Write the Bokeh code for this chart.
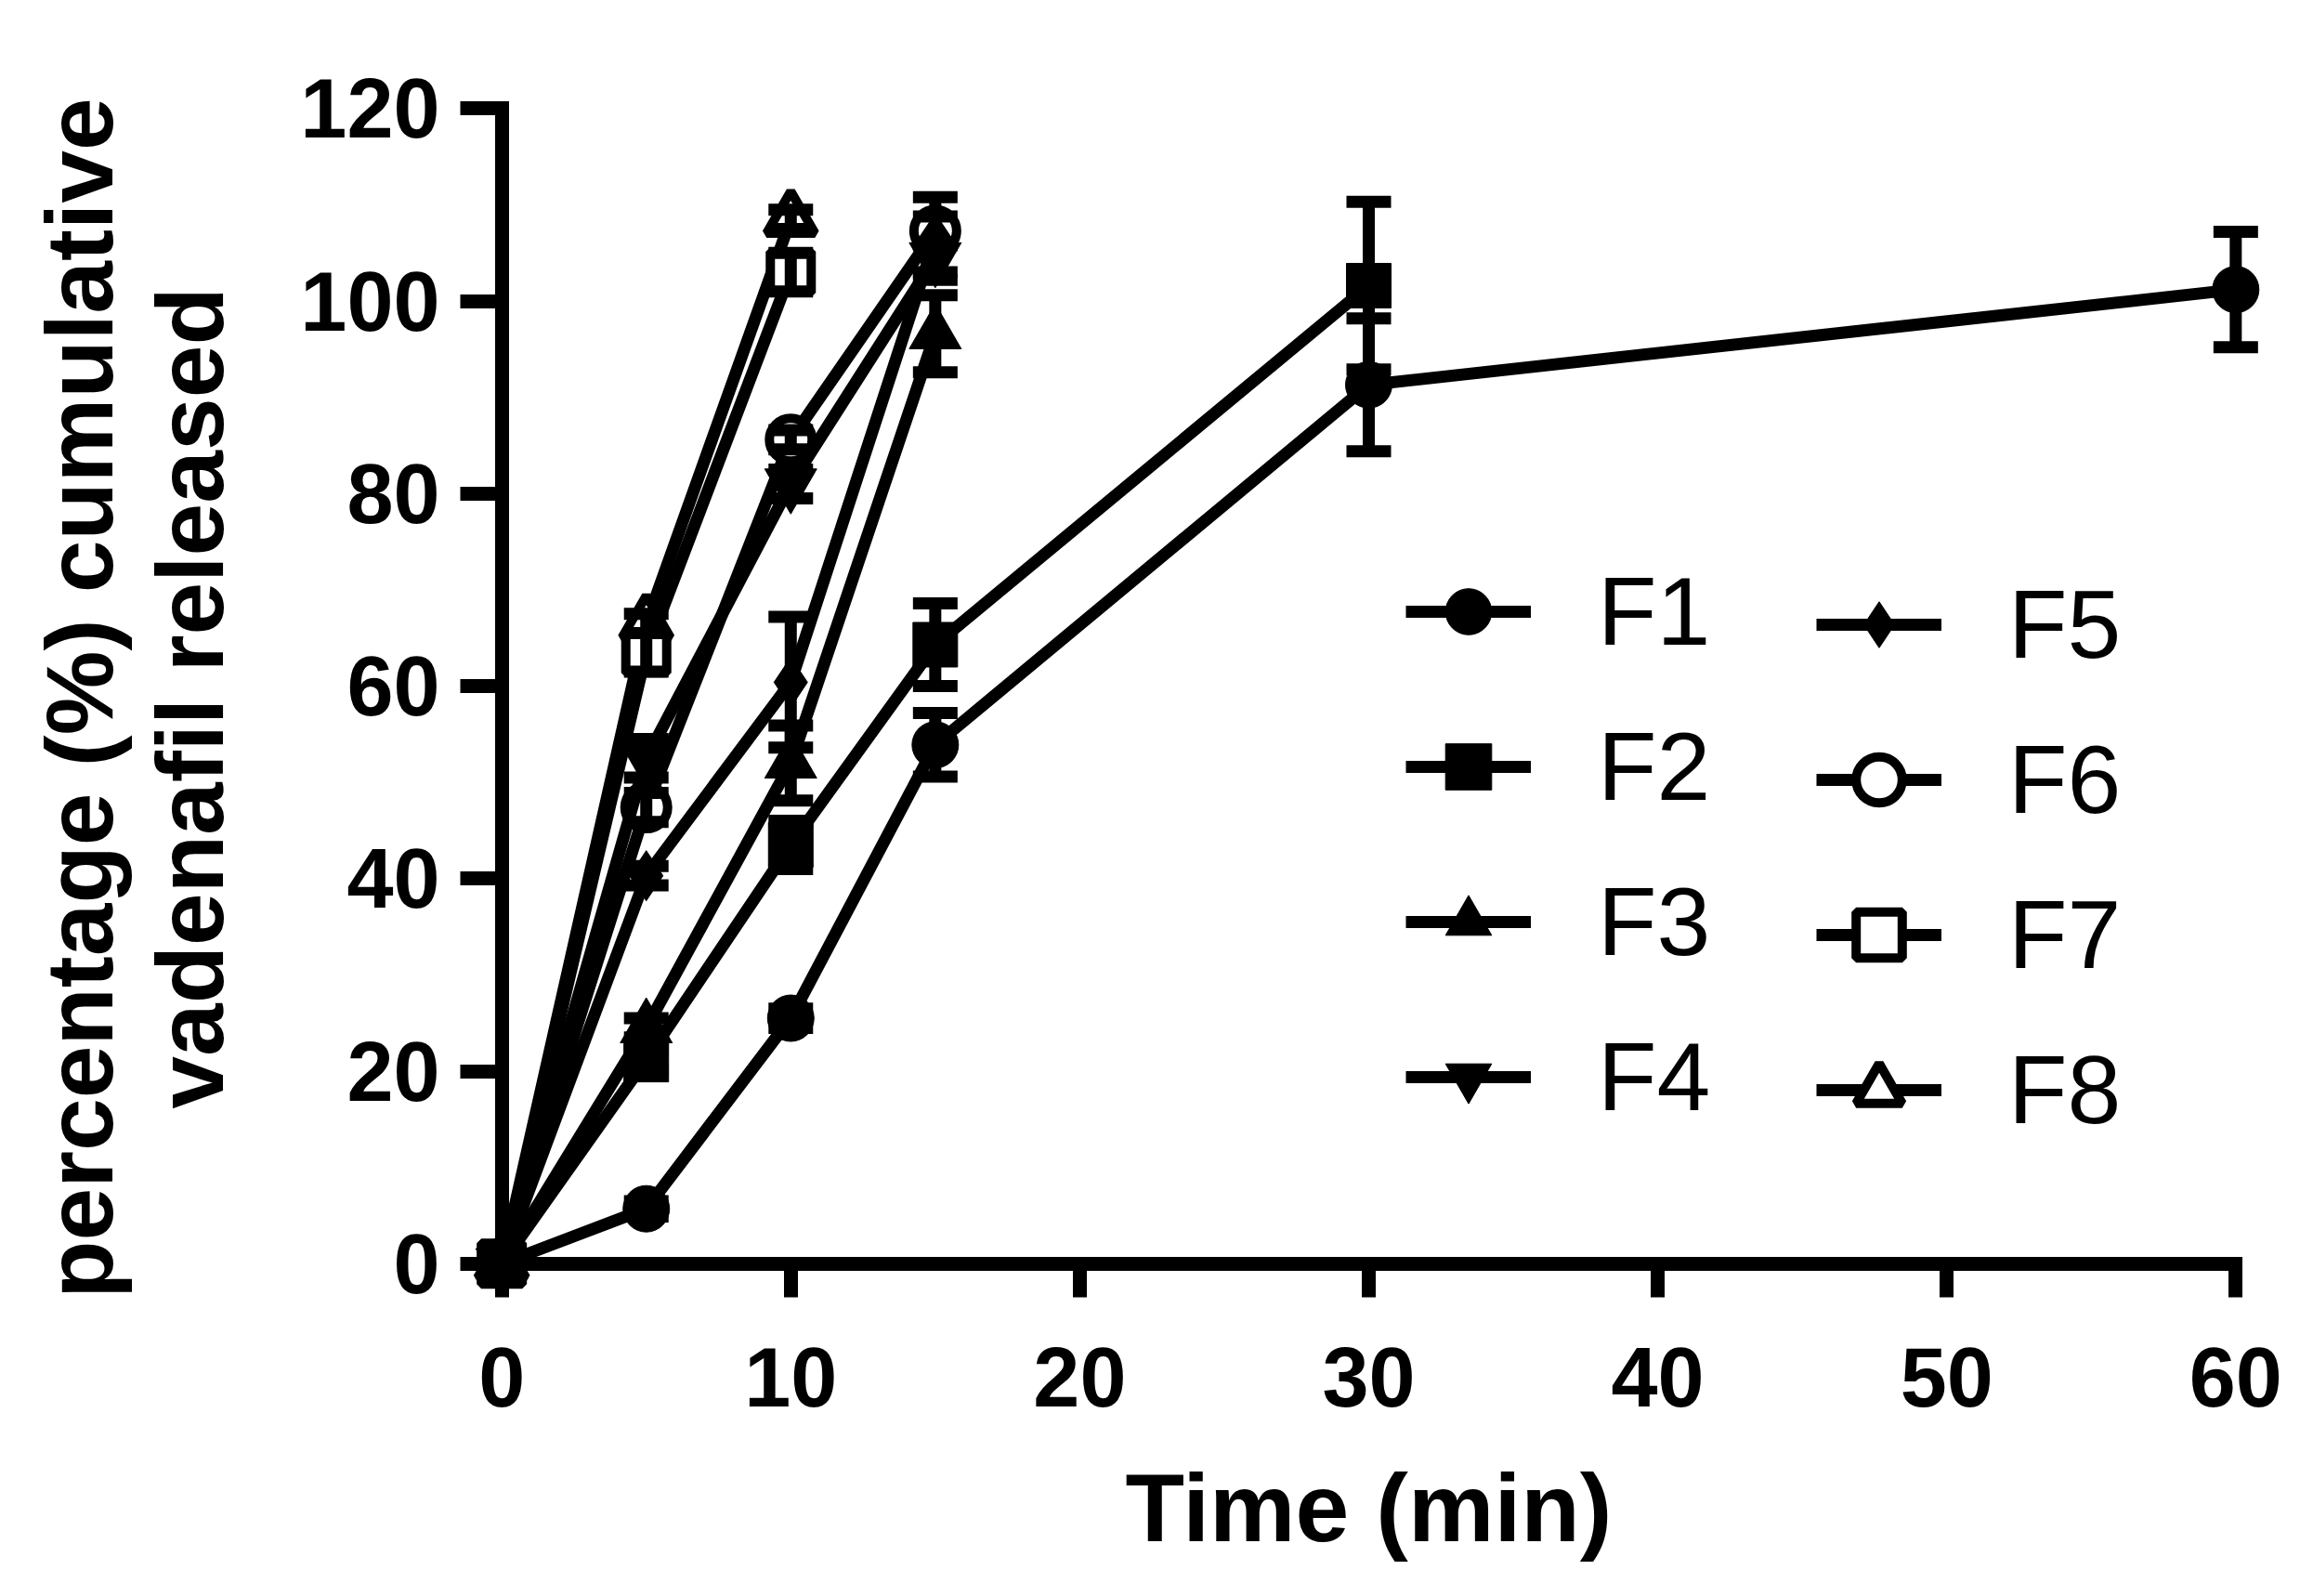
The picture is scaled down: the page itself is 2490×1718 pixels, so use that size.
from bokeh.plotting import figure
from bokeh.models import (Range1d, FixedTicker, Legend, LegendItem, Whisker,
                          TeeHead, ColumnDataSource, LinearAxis)
from bokeh.embed import file_html
from bokeh.resources import INLINE

# ---- data ----
series_names = ["F1", "F2", "F3", "F4", "F5", "F6", "F7", "F8"]

f1_time = [0, 5, 10, 15, 30, 60]
f1_mean = [0, 5.7, 25.5, 53.9, 91.3, 101.2]
f1_sd = [0, 0.8, 1.0, 3.3, 6.9, 6.0]

f2_time = [0, 5, 10, 15, 30]
f2_mean = [0, 21.2, 43.5, 64.3, 101.6]
f2_sd = [0, 1.0, 2.5, 4.3, 8.7]

f3_time = [0, 5, 10, 15]
f3_mean = [0, 24.5, 52.0, 96.6]
f3_sd = [0, 1.0, 3.9, 4.0]

f4_time = [0, 5, 10, 15]
f4_mean = [0, 52.5, 81.0, 104.5]
f4_sd = [0, 2.0, 1.5, 1.5]

f5_time = [0, 5, 10, 15]
f5_mean = [0, 40.3, 60.4, 106.5]
f5_sd = [0, 1.0, 6.8, 4.3]

f6_time = [0, 5, 10, 15]
f6_mean = [0, 47.4, 85.6, 107.3]
f6_sd = [0, 1.5, 1.0, 1.5]

f7_time = [0, 5, 10]
f7_mean = [0, 63.5, 103.0]
f7_sd = [0, 2.0, 2.0]

f8_time = [0, 5, 10]
f8_mean = [0, 66.5, 108.5]
f8_sd = [0, 1.0, 1.0]

x_ticks = [0, 10, 20, 30, 40, 50, 60]
y_ticks = [0, 20, 40, 60, 80, 100, 120]
x_title = "Time (min)"
y_title = "percentage (%) cumulative\nvadenafil released"

times = [f1_time, f2_time, f3_time, f4_time, f5_time, f6_time, f7_time, f8_time]
means = [f1_mean, f2_mean, f3_mean, f4_mean, f5_mean, f6_mean, f7_mean, f8_mean]
sds = [f1_sd, f2_sd, f3_sd, f4_sd, f5_sd, f6_sd, f7_sd, f8_sd]

# ---- styles ----
markers = ["circle", "square", "triangle", "inverted_triangle", "diamond",
           "circle", "square", "triangle"]
fills = ["black"] * 5 + ["white"] * 3
sizes = [50, 48, 56, 56, 54, 46, 44, 52]
LW = 13
AXW = 15
FONT = "Liberation Sans"

p = figure(frame_width=1960, frame_height=1290,
           x_range=Range1d(-1.5, 61.5), y_range=Range1d(-3.5, 121),
           output_backend="svg", toolbar_location=None,
           min_border_left=493, min_border_top=106,
           min_border_right=20, min_border_bottom=300)
p.outline_line_color = None
p.xgrid.visible = False
p.ygrid.visible = False
p.background_fill_color = "white"
p.border_fill_color = "white"

# axis lines and ticks crossing at the origin
for ax, ticks, bnds in ((p.xaxis[0], x_ticks, (0, 60)), (p.yaxis[0], y_ticks, (0, 120))):
    ax.ticker = FixedTicker(ticks=ticks)
    ax.fixed_location = 0
    ax.bounds = bnds
    ax.axis_line_width = AXW
    ax.axis_line_color = "black"
    ax.axis_line_cap = "square"
    ax.major_tick_line_width = AXW
    ax.major_tick_line_color = "black"
    ax.major_tick_out = 45
    ax.major_tick_in = 0
    ax.minor_tick_line_color = None
    ax.major_label_text_font_size = "0px"
    ax.major_label_text_alpha = 0

# label-only axes at the frame edges
xlab = LinearAxis(ticker=FixedTicker(ticks=x_ticks), axis_label=x_title)
ylab = LinearAxis(ticker=FixedTicker(ticks=y_ticks), axis_label=y_title)
for ax in (xlab, ylab):
    ax.axis_line_color = None
    ax.major_tick_line_color = None
    ax.minor_tick_line_color = None
    ax.major_tick_out = 0
    ax.major_tick_in = 0
    ax.major_label_text_font = FONT
    ax.major_label_text_font_style = "bold"
    ax.major_label_text_font_size = "90px"
    ax.major_label_text_color = "black"
    ax.axis_label_text_font = FONT
    ax.axis_label_text_font_style = "bold"
    ax.axis_label_text_color = "black"
xlab.major_label_standoff = 54
ylab.major_label_standoff = 20
xlab.axis_label_text_font_size = "104px"
ylab.axis_label_text_font_size = "102px"
ylab.axis_label_text_line_height = 1.05
xlab.axis_label_standoff = 48
ylab.axis_label_standoff = 58
p.add_layout(xlab, "below")
p.add_layout(ylab, "left")

items = {}
order = list(range(len(series_names)))[::-1]   # F8 drawn first, F1 last
for i in order:
    name, t, m, s = series_names[i], times[i], means[i], sds[i]
    mk, fc, sz = markers[i], fills[i], sizes[i]
    src = ColumnDataSource(dict(
        t=[a for a, e in zip(t, s) if e > 0],
        lo=[v - e for v, e in zip(m, s) if e > 0],
        hi=[v + e for v, e in zip(m, s) if e > 0]))
    w = Whisker(base="t", lower="lo", upper="hi", source=src, line_width=LW,
                line_color="black", level="glyph",
                lower_head=TeeHead(size=48, line_width=LW, line_color="black"),
                upper_head=TeeHead(size=48, line_width=LW, line_color="black"))
    p.add_layout(w)
    ln = p.line(t, m, line_width=LW, line_color="black")
    sc = p.scatter(t, m, marker=mk, size=sz, fill_color=fc, line_color="black",
                   line_width=10 if fc == "white" else 1)
    items[name] = LegendItem(label=name, renderers=[ln, sc])

def make_legend(names, loc):
    lg = Legend(items=[items[n] for n in names], location=loc, orientation="vertical",
                glyph_width=135, glyph_height=124, spacing=43,
                label_standoff=72, padding=0, margin=0,
                label_text_font=FONT, label_text_font_size="104px",
                label_text_color="black",
                border_line_color=None, background_fill_alpha=0)
    return lg

p.add_layout(make_legend(series_names[:4], (1020, 175)), "center")
p.add_layout(make_legend(series_names[4:], (1462, 161)), "center")

open("out.html", "w").write(file_html(p, INLINE))
